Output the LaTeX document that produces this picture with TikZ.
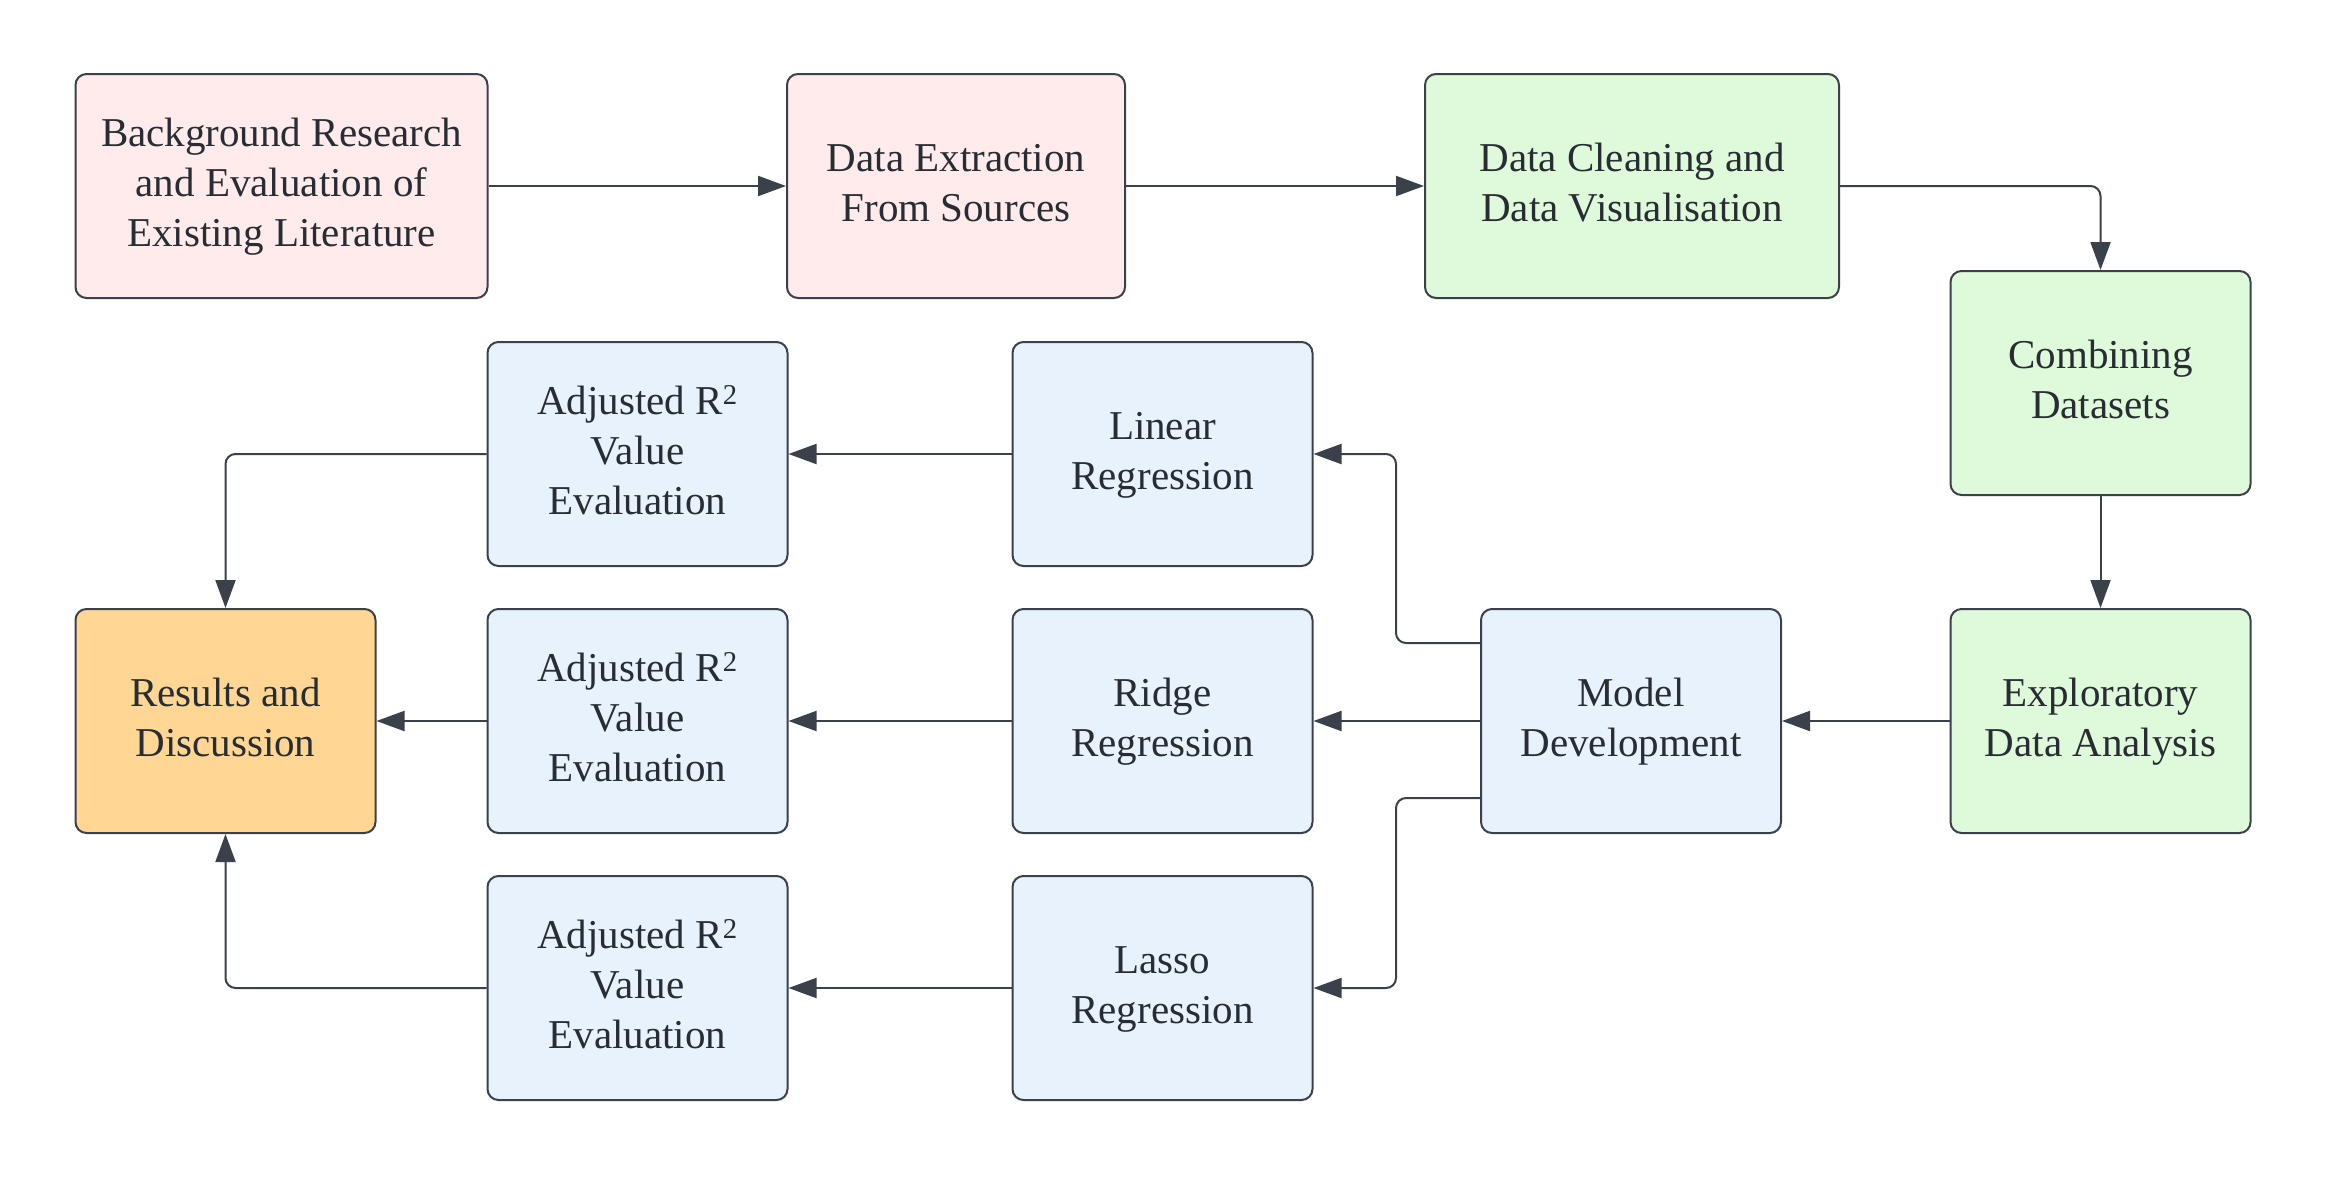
\documentclass[tikz,border=0pt]{standalone}
\usepackage{fontspec}
\setmainfont{Liberation Serif}
\usetikzlibrary{arrows.meta,calc}
\definecolor{pinkf}{HTML}{FFEBEB}
\definecolor{greenf}{HTML}{DFF9DB}
\definecolor{bluef}{HTML}{E8F2FD}
\definecolor{orangef}{HTML}{FFD693}
\definecolor{edge}{HTML}{3A414A}
\definecolor{txt}{HTML}{282C33}
\begin{document}
\begin{tikzpicture}[x=1pt,y=-1pt,
  box/.style={draw=edge,line width=2pt,rounded corners=11pt,align=center,
    inner sep=0pt,minimum height=224pt,text=txt,
    font=\fontsize{41}{50}\selectfont},
  wbox/.style={box,minimum width=300pt},
  arr/.style={draw=edge,line width=2pt,rounded corners=10pt,
    -{Triangle[length=28pt,width=20pt]}}
]
\useasboundingbox[fill=white] (0,0) rectangle (2325,1178);
% top row
\node[box,fill=pinkf,minimum width=412pt] (bg) at (281.5,186) {\strut Background Research\\and Evaluation of\\Existing Literature\strut};
\node[box,fill=pinkf,minimum width=338pt] (de) at (956,186) {\strut Data Extraction\\From Sources\strut};
\node[box,fill=greenf,minimum width=414pt] (dc) at (1632,186) {\strut Data Cleaning and\\Data Visualisation\strut};
\node[wbox,fill=greenf] (cb) at (2100.5,383) {\strut Combining\\Datasets\strut};
\node[wbox,fill=greenf] (ex) at (2100.5,721) {\strut Exploratory\\Data Analysis\strut};
\node[wbox,fill=bluef] (md) at (1631,721) {\strut Model\\Development\strut};
\node[wbox,fill=bluef] (lr) at (1162.5,454) {\strut Linear\\Regression\strut};
\node[wbox,fill=bluef] (rr) at (1162.5,721) {\strut Ridge\\Regression\strut};
\node[wbox,fill=bluef] (la) at (1162.5,988) {\strut Lasso\\Regression\strut};
\node[wbox,fill=bluef] (a1) at (637.5,454) {\strut Adjusted R\textsuperscript{2}\\Value\\Evaluation\strut};
\node[wbox,fill=bluef] (a2) at (637.5,721) {\strut Adjusted R\textsuperscript{2}\\Value\\Evaluation\strut};
\node[wbox,fill=bluef] (a3) at (637.5,988) {\strut Adjusted R\textsuperscript{2}\\Value\\Evaluation\strut};
\node[wbox,fill=orangef] (rs) at (225.5,721) {\strut Results and\\Discussion\strut};
% connectors
\draw[arr] (bg.east) -- (de.west);
\draw[arr] (de.east) -- (dc.west);
\draw[arr] (dc.east) -| (cb.north);
\draw[arr] (cb.south) -- (ex.north);
\draw[arr] (ex.west) -- (md.east);
\draw[arr] ($(md.west)+(0,-78)$) -- ++(-84,0) |- (lr.east);
\draw[arr] (md.west) -- (rr.east);
\draw[arr] ($(md.west)+(0,77)$) -- ++(-84,0) |- (la.east);
\draw[arr] (lr.west) -- (a1.east);
\draw[arr] (rr.west) -- (a2.east);
\draw[arr] (la.west) -- (a3.east);
\draw[arr] (a1.west) -| (rs.north);
\draw[arr] (a2.west) -- (rs.east);
\draw[arr] (a3.west) -| (rs.south);
\end{tikzpicture}
\end{document}
